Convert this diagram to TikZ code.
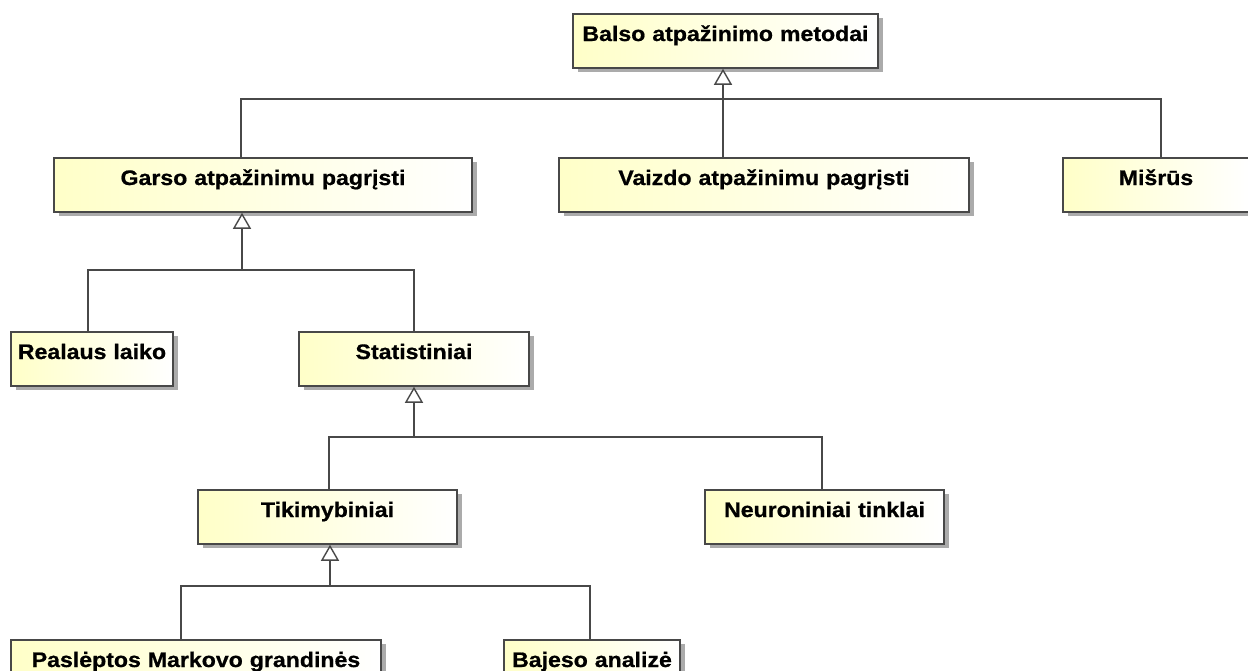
\documentclass[tikz,border=0pt]{standalone}
\usepackage{fontspec}
\setmainfont{Liberation Sans}[FakeStretch=1.1, BoldFeatures={FakeBold=0.8}]
\usetikzlibrary{arrows.meta,shadows}
\definecolor{boxline}{RGB}{72,72,72}
\definecolor{boxfill}{RGB}{255,255,200}
\definecolor{linkcol}{RGB}{72,72,72}
\tikzset{
  cls/.style={draw=boxline, line width=1.5pt, left color=boxfill, right color=white,
    inner xsep=0pt, inner ysep=0pt, text height=27pt, text depth=27pt, align=center,
    font=\fontsize{21}{24}\selectfont\bfseries,
    drop shadow={shadow xshift=4.5pt, shadow yshift=-4pt, fill=black, opacity=0.33}},
  link/.style={draw=linkcol, line width=1.4pt},
  gen/.style={link, -{Triangle[open, length=16pt, width=18pt, fill=white]}}
}
\begin{document}
\begin{tikzpicture}[x=1pt, y=-1pt]
\useasboundingbox (0,0) rectangle (1248,670);
\clip (0,0) rectangle (1248,670);

% class boxes
\node[cls, text width=305pt] (balso)   at (725.5,41)  {Balso atpažinimo metodai};
\node[cls, text width=418pt] (garso)   at (263,185)   {Garso atpažinimu pagrįsti};
\node[cls, text width=410pt] (vaizdo)  at (764,185)   {Vaizdo atpažinimu pagrįsti};
\node[cls, text width=186pt] (misrus)  at (1156,185)  {Mišrūs};
\node[cls, text width=162pt] (realaus) at (92,359)    {Realaus laiko};
\node[cls, text width=230pt] (stat)    at (414,359)   {Statistiniai};
\node[cls, text width=259pt] (tikim)   at (327.5,517) {Tikimybiniai};
\node[cls, text width=239pt] (neuro)   at (824.5,517) {Neuroniniai tinklai};
\node[cls, text width=370pt] (pasl)    at (196,667)   {Paslėptos Markovo grandinės};
\node[cls, text width=176pt] (bajeso)  at (592,667)   {Bajeso analizė};

% generalization: Balso atpažinimo metodai
\coordinate (a1) at (241,99);
\coordinate (a2) at (723,99);
\coordinate (a3) at (1161,99);
\draw[link] (garso.north -| a1) -- (a1) -- (a3) -- (misrus.north -| a3);
\draw[gen] (vaizdo.north -| a2) -- (balso.south -| a2);

% generalization: Garso atpažinimu pagrįsti
\coordinate (b1) at (88,270);
\coordinate (b2) at (242,270);
\coordinate (b3) at (414,270);
\draw[link] (realaus.north -| b1) -- (b1) -- (b3) -- (stat.north -| b3);
\draw[gen] (b2) -- (garso.south -| b2);

% generalization: Statistiniai
\coordinate (c1) at (329,437);
\coordinate (c2) at (414,437);
\coordinate (c3) at (822,437);
\draw[link] (tikim.north -| c1) -- (c1) -- (c3) -- (neuro.north -| c3);
\draw[gen] (c2) -- (stat.south -| c2);

% generalization: Tikimybiniai
\coordinate (d1) at (181,586);
\coordinate (d2) at (330,586);
\coordinate (d3) at (590,586);
\draw[link] (pasl.north -| d1) -- (d1) -- (d3) -- (bajeso.north -| d3);
\draw[gen] (d2) -- (tikim.south -| d2);
\end{tikzpicture}
\end{document}
